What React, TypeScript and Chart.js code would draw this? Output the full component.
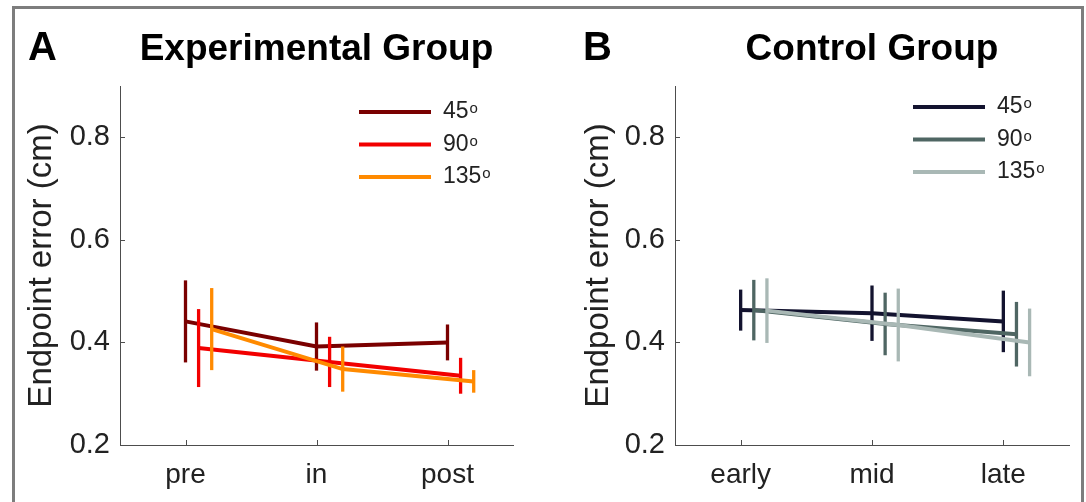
import React, { useEffect, useRef } from "react";
import { Chart, registerables } from "chart.js";

Chart.register(...registerables);

// Experimental group: training phases
const experimentalPhases = ["pre", "in", "post"];
// Control group: time bins
const controlPhases = ["early", "mid", "late"];
// Target directions (degrees)
const directionLabels = ["45", "90", "135"];
// Y-axis tick values (cm)
const yTicks = [0.2, 0.4, 0.6, 0.8];

// Mean endpoint error (cm) and error-bar half-lengths, experimental group
const exp45Mean = [0.441, 0.392, 0.4];
const exp45Err = [0.08, 0.047, 0.035];
const exp90Mean = [0.389, 0.362, 0.335];
const exp90Err = [0.076, 0.049, 0.035];
const exp135Mean = [0.426, 0.348, 0.324];
const exp135Err = [0.08, 0.044, 0.022];

// Mean endpoint error (cm) and error-bar half-lengths, control group
const ctl45Mean = [0.463, 0.457, 0.441];
const ctl45Err = [0.04, 0.054, 0.06];
const ctl90Mean = [0.463, 0.436, 0.416];
const ctl90Err = [0.059, 0.061, 0.063];
const ctl135Mean = [0.462, 0.434, 0.4];
const ctl135Err = [0.063, 0.071, 0.066];

const expColors = ["#7a0000", "#f20000", "#ff8a00"];
const ctlColors = ["#13132f", "#4f6663", "#a9b8b5"];

const FONT = "'Liberation Sans', Arial, Helvetica, sans-serif";
const TEXT = "#222222";
const AXIS = "#4d4d4d";
const H = 502;
const PLOT_TOP = 86;
const X_AXIS_H = 57;
const SERIES_SHIFT = 0.1; // horizontal dodge between directions

type PanelProps = {
  left: number;
  width: number;
  letter: string;
  letterX: number;
  title: string;
  categories: string[];
  means: number[][];
  errs: number[][];
  colors: string[];
  yAxisWidth: number;
  yTitlePad: number;
  rightPad: number;
  legendX: number;
  legendY: number;
};

function Panel(p: PanelProps) {
  const ref = useRef<HTMLCanvasElement | null>(null);

  useEffect(() => {
    const canvas = ref.current;
    if (!canvas) return;

    const decor = {
      id: "panelDecor",
      afterDatasetDraw(chart: any, args: any) {
        const { ctx } = chart;
        const x = chart.scales.x;
        const y = chart.scales.y;
        const s = args.index;
        const e = p.errs[s];
        ctx.save();
        ctx.strokeStyle = p.colors[s];
        ctx.lineWidth = 3.3;
        ctx.lineCap = "butt";
        p.means[s].forEach((m, i) => {
          const px = x.getPixelForValue(i + 1 + s * SERIES_SHIFT);
          ctx.beginPath();
          ctx.moveTo(px, y.getPixelForValue(m - e[i]));
          ctx.lineTo(px, y.getPixelForValue(m + e[i]));
          ctx.stroke();
        });
        ctx.restore();
      },
      afterDraw(chart: any) {
        const { ctx, chartArea: area } = chart;
        const x = chart.scales.x;
        const y = chart.scales.y;
        ctx.save();

        // inward tick marks
        ctx.strokeStyle = AXIS;
        ctx.lineWidth = 1;
        ctx.beginPath();
        yTicks.forEach((v) => {
          const py = Math.round(y.getPixelForValue(v)) + 0.5;
          ctx.moveTo(area.left, py);
          ctx.lineTo(area.left + 5, py);
        });
        p.categories.forEach((_, i) => {
          const px = Math.round(x.getPixelForValue(i + 1)) + 0.5;
          ctx.moveTo(px, area.bottom);
          ctx.lineTo(px, area.bottom - 5);
        });
        ctx.stroke();

        // panel letter and title
        ctx.fillStyle = "#000";
        ctx.textBaseline = "alphabetic";
        ctx.textAlign = "left";
        ctx.font = `bold 40px ${FONT}`;
        ctx.fillText(p.letter, p.letterX, 60);
        ctx.textAlign = "center";
        ctx.font = `bold 37px ${FONT}`;
        ctx.fillText(p.title, (area.left + area.right) / 2, 60);

        // legend
        directionLabels.forEach((lab, s) => {
          const ly = p.legendY + s * 32.5;
          ctx.strokeStyle = p.colors[s];
          ctx.lineWidth = 4;
          ctx.beginPath();
          ctx.moveTo(p.legendX, ly);
          ctx.lineTo(p.legendX + 72, ly);
          ctx.stroke();
          ctx.fillStyle = TEXT;
          ctx.textAlign = "left";
          ctx.textBaseline = "middle";
          ctx.font = `23px ${FONT}`;
          const tx = p.legendX + 84;
          ctx.fillText(lab, tx, ly);
          const w = ctx.measureText(lab).width;
          ctx.font = `15px ${FONT}`;
          ctx.textBaseline = "alphabetic";
          ctx.fillText("o", tx + w + 1, ly + 1);
        });
        ctx.restore();
      },
    };

    const datasets = p.means.map((m, s) => ({
      label: directionLabels[s],
      data: m.map((v, i) => ({ x: i + 1 + s * SERIES_SHIFT, y: v })),
      borderColor: p.colors[s],
      backgroundColor: p.colors[s],
      borderWidth: 4,
      pointRadius: 0,
      tension: 0,
      order: p.means.length - 1 - s,
    }));

    const chart = new Chart(canvas, {
      type: "line",
      data: { datasets },
      plugins: [decor],
      options: {
        responsive: false,
        animation: false,
        devicePixelRatio: 1,
        layout: { padding: { top: PLOT_TOP, right: p.rightPad, bottom: 0, left: 0 } },
        plugins: {
          legend: { display: false },
          tooltip: { enabled: false },
          title: { display: false },
        },
        scales: {
          x: {
            type: "linear",
            min: 0.5,
            max: 3.5,
            afterBuildTicks: (sc: any) => {
              sc.ticks = p.categories.map((_, i) => ({ value: i + 1 }));
            },
            afterFit: (sc: any) => {
              sc.height = X_AXIS_H;
            },
            grid: { display: false, drawTicks: false },
            border: { display: true, color: AXIS, width: 1 },
            ticks: {
              callback: (v: any) => p.categories[Math.round(Number(v)) - 1] ?? "",
              color: TEXT,
              font: { family: FONT, size: 28 },
              padding: 13,
              maxRotation: 0,
              autoSkip: false,
            },
          },
          y: {
            type: "linear",
            min: 0.2,
            max: 0.9,
            afterBuildTicks: (sc: any) => {
              sc.ticks = yTicks.map((v) => ({ value: v }));
            },
            afterFit: (sc: any) => {
              sc.width = p.yAxisWidth;
            },
            grid: { display: false, drawTicks: false },
            border: { display: true, color: AXIS, width: 1 },
            ticks: {
              callback: (v: any) => Number(v).toFixed(1),
              color: TEXT,
              font: { family: FONT, size: 29 },
              padding: 10,
              autoSkip: false,
            },
            title: {
              display: true,
              text: "Endpoint error (cm)",
              color: TEXT,
              font: { family: FONT, size: 33 },
              padding: { top: p.yTitlePad, bottom: 0 },
            },
          },
        },
      },
    } as any);

    return () => chart.destroy();
  }, []);

  return (
    <canvas
      ref={ref}
      width={p.width}
      height={H}
      style={{ position: "absolute", left: p.left, top: 0, width: p.width, height: H }}
    />
  );
}

export default function App() {
  return (
    <div
      style={{
        position: "absolute",
        left: 0,
        top: 0,
        width: 1086,
        height: H,
        background: "#fff",
        overflow: "hidden",
      }}
    >
      <div
        style={{
          position: "absolute",
          left: 12,
          top: 6,
          width: 1066,
          height: 520,
          borderTop: "3px solid #7d7d7d",
          borderLeft: "3px solid #7d7d7d",
          borderRight: "3px solid #7d7d7d",
        }}
      />
      <Panel
        left={0}
        width={540}
        letter="A"
        letterX={28}
        title="Experimental Group"
        categories={experimentalPhases}
        means={[exp45Mean, exp90Mean, exp135Mean]}
        errs={[exp45Err, exp90Err, exp135Err]}
        colors={expColors}
        yAxisWidth={120}
        yTitlePad={22}
        rightPad={27}
        legendX={359}
        legendY={112}
      />
      <Panel
        left={540}
        width={546}
        letter="B"
        letterX={43}
        title="Control Group"
        categories={controlPhases}
        means={[ctl45Mean, ctl90Mean, ctl135Mean]}
        errs={[ctl45Err, ctl90Err, ctl135Err]}
        colors={ctlColors}
        yAxisWidth={135}
        yTitlePad={39}
        rightPad={17}
        legendX={373}
        legendY={107}
      />
    </div>
  );
}
